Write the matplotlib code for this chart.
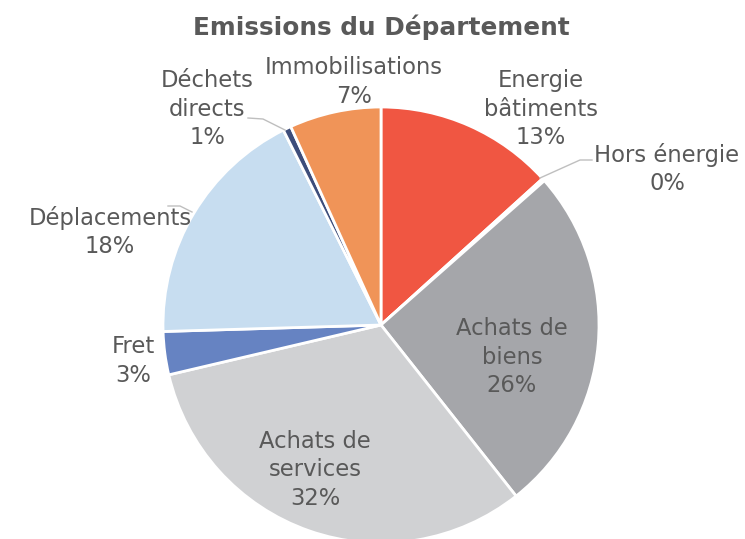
import matplotlib.pyplot as plt

# Données
categories = ['Energie\nbâtiments', 'Hors énergie', 'Achats de\nbiens', 'Achats de\nservices',
              'Fret', 'Déplacements', 'Déchets\ndirects', 'Immobilisations']
valeurs = [13.3, 0.2, 25.9, 32.0, 3.2, 18.1, 0.6, 6.8]
pourcentages = ['13%', '0%', '26%', '32%', '3%', '18%', '1%', '7%']
couleurs = ['#F05642', '#A5A6AA', '#A5A6AA', '#D0D1D3', '#6683C2', '#C7DDF0', '#3D4D7B', '#F09458']

# positions des étiquettes (pixels, origine en bas à gauche)
pos_labels = [(541, 430), (667, 370), (512, 182), (315, 69),
              (133, 178), (110, 307), (207, 430), (354, 457)]

H = 539
fig = plt.figure(figsize=(7.45, 5.39), dpi=100)
ax = fig.add_axes([0, 0, 1, 1])

ax.pie(valeurs, colors=couleurs, startangle=90, counterclock=False,
       center=(381, H - 325), radius=218,
       wedgeprops=dict(edgecolor='white', linewidth=2))

ax.set_xlim(0, 745)
ax.set_ylim(0, H)
ax.set_aspect('equal')
ax.axis('off')

gris = '#595959'
for cat, pct, (x, y) in zip(categories, pourcentages, pos_labels):
    ax.text(x, y, cat + '\n' + pct, ha='center', va='center', fontsize=16.3,
            color=gris, linespacing=1.33)

# lignes de rappel
ax.plot([248, 263, 285], [H - 118, H - 119, H - 130], color='#BFBFBF', lw=1)
ax.plot([540, 580, 592], [H - 178, H - 160, H - 160], color='#BFBFBF', lw=1)
ax.plot([168, 180, 192], [H - 206, H - 206, H - 212], color='#BFBFBF', lw=1)

ax.text(381, H - 27, 'Emissions du Département', ha='center', va='center',
        fontsize=17.8, fontweight='bold', color=gris)

fig.savefig('out.png', dpi=100)
